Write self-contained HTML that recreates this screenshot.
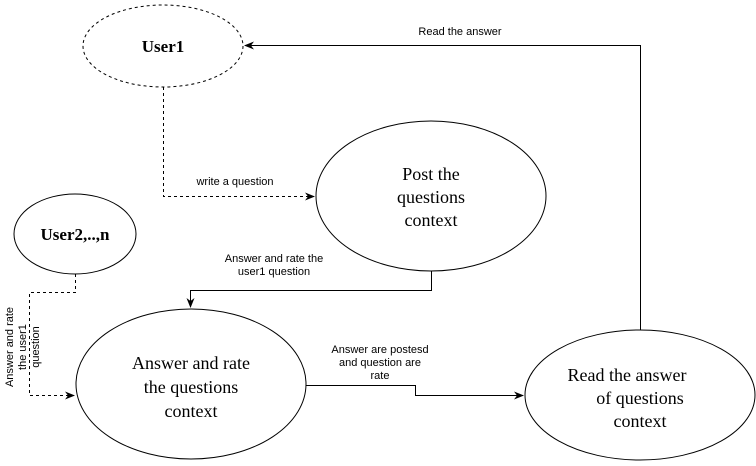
<!DOCTYPE html>
<html><head><style>body{margin:0;background:#fff}
.s{font-family:"Liberation Sans",Arial,sans-serif}
.r{font-family:"Liberation Serif","Times New Roman",serif}
</style></head><body>
<svg width="756" height="461" xmlns="http://www.w3.org/2000/svg">
<defs><marker id="a" markerWidth="10" markerHeight="10" refX="9" refY="5" orient="auto" markerUnits="userSpaceOnUse"><path d="M0,1 L10,5 L0,9 L3,5 Z" fill="#000"/></marker></defs>
<g fill="none" stroke="#000" stroke-width="1">
<ellipse cx="163" cy="46" rx="80" ry="41" stroke-dasharray="3,3"/>
<ellipse cx="431" cy="196" rx="115" ry="75"/>
<ellipse cx="75" cy="234" rx="61" ry="40"/>
<ellipse cx="191" cy="384" rx="115" ry="75"/>
<ellipse cx="640" cy="395" rx="115" ry="65"/>
<path d="M640.5,330 V45.5 H245" marker-end="url(#a)"/>
<path d="M163.5,87 V196.5 H314" stroke-dasharray="3,3" marker-end="url(#a)"/>
<path d="M431.5,271 V290.5 H190.5 V307" marker-end="url(#a)"/>
<path d="M75.5,274 V292.5 H29.5 V395.5 H74" stroke-dasharray="3,3" marker-end="url(#a)"/>
<path d="M306,385.5 H415.5 V395.5 H523" marker-end="url(#a)"/>
</g>
<g class="r" text-anchor="middle" fill="#000">
<text x="163" y="52" font-size="17" font-weight="bold">User1</text>
<text x="75" y="240" font-size="17" font-weight="bold">User2,..,n</text>
<text x="431" y="180" font-size="18">Post the</text>
<text x="431" y="203" font-size="18">questions</text>
<text x="431" y="226" font-size="18">context</text>
<text x="191" y="369" font-size="18">Answer and rate</text>
<text x="191" y="393" font-size="18">the questions</text>
<text x="191" y="417" font-size="18">context</text>
<text x="627" y="381" font-size="18">Read the answer</text>
<text x="640" y="404" font-size="18">of questions</text>
<text x="640" y="427" font-size="18">context</text>
</g>
<g class="s" font-size="11" text-anchor="middle" fill="#000">
<text x="460" y="35">Read the answer</text>
<text x="235" y="185">write a question</text>
<text x="274" y="262">Answer and rate the</text>
<text x="274" y="275">user1 question</text>
<text x="380" y="353">Answer are postesd</text>
<text x="380" y="366">and question are</text>
<text x="380" y="379">rate</text>
<g transform="translate(24,347) rotate(-90)">
<text x="0" y="-11">Answer and rate</text>
<text x="0" y="2">the user1</text>
<text x="0" y="15">question</text>
</g>
</g>
</svg>
</body></html>
